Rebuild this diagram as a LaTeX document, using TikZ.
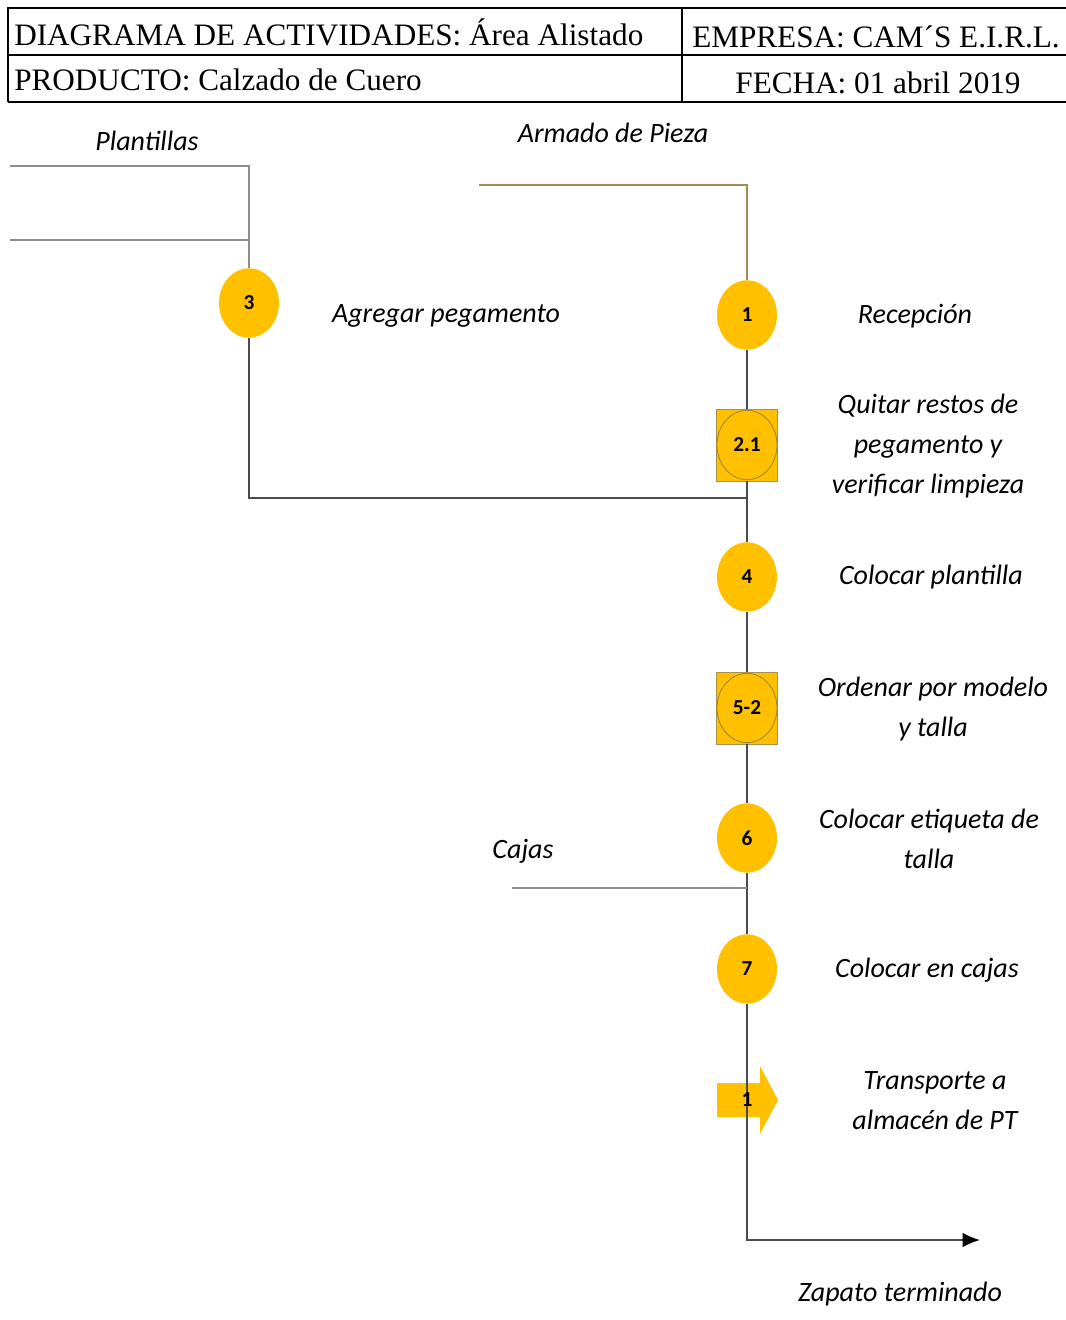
\documentclass[tikz,border=0pt]{standalone}
\usepackage{fontspec}
\setmainfont{Liberation Serif}
\newfontfamily\calfont{Carlito}
\usepackage{tikz}
\usetikzlibrary{shapes.geometric}
\usetikzlibrary{arrows.meta}
\usetikzlibrary{positioning}
\usetikzlibrary{calc}
\definecolor{opFill}{RGB}{255,192,0}
\definecolor{opBorder}{RGB}{130,100,0}
\definecolor{armado}{RGB}{160,140,90}
\definecolor{flowGray}{RGB}{75,75,75}
\definecolor{inGray}{RGB}{140,140,140}
\tikzstyle{hdr} = [font={\fontsize{23.4}{26}\selectfont}, inner sep=0pt]
\tikzstyle{num} = [font={\calfont\bfseries\fontsize{16}{17}\selectfont}]
\tikzstyle{op} = [ellipse, fill=opFill, minimum width=45pt, minimum height=52pt,
        inner sep=0pt, num]
\tikzstyle{combo} = [rectangle, fill=opFill, draw=opBorder!70, line width=0.6pt,
        minimum width=46pt, minimum height=54pt, inner sep=0pt]
\tikzstyle{comboIn} = [op, draw=opBorder!80, line width=0.6pt]
\tikzstyle{desc} = [font={\calfont\itshape\fontsize{21}{30}\selectfont}, align=center]
\tikzstyle{flow} = [draw=flowGray, line width=1.4pt]
\tikzstyle{input} = [draw=inGray, line width=2pt]

\begin{document}
\begin{tikzpicture}[x=0.75pt, y=-0.75pt]
                \useasboundingbox (0,0) rectangle (1066,1320);
                % encabezado
                \draw[line width=1pt] (1066,8) -- (8,8) -- (8,102);
                \draw[line width=1pt] (8,55) -- (1066,55);
                \draw[line width=2.2pt] (8,102) -- (1066,102);
                \draw[line width=1pt] (682,8) -- (682,102);
                \node[hdr, anchor=west] (titulo) at (14,32) {DIAGRAMA DE ACTIVIDADES: Área Alistado};
                \node[hdr, anchor=west] (producto) at (14,80) {PRODUCTO: Calzado de Cuero};
                \node[hdr] (empresa) at (876,37) {EMPRESA: CAM´S E.I.R.L.};
                \node[hdr] (fecha) at (878,83) {FECHA: 01 abril 2019};
                % simbolos
                \node[op] (op3) at (249,303) {3};
                \node[op] (op1) at (747,315) {1};
                \node[combo] (sq21) at (747,445) {};
                \node[comboIn] (op21) at (747,445) {2.1};
                \node[op] (op4) at (747,577) {4};
                \node[combo] (sq52) at (747,708) {};
                \node[comboIn] (op52) at (747,708) {5-2};
                \node[op] (op6) at (747,838) {6};
                \node[op] (op7) at (747,969) {7};
                \coordinate (tr1) at (747,1100);
                \fill[opFill] ($(tr1)+(-30,-17)$) -- ++(43,0) -- ++(0,-17) -- ++(18,34)
                    -- ++(-18,34) -- ++(0,-17) -- ++(-43,0) -- cycle;
                % lineas
                \coordinate (armIni) at (479,185);
                \coordinate (pl1) at (10,166);
                \coordinate (pl2) at (10,240);
                \coordinate (union1) at (747,498);
                \coordinate (cajIni) at (512,888);
                \coordinate (union2) at (747,888);
                \coordinate (fin) at (980,1240);
                \draw[draw=armado, line width=1.4pt] (armIni) -| (op1.north);
                \draw[input] (pl1) -| (op3.north);
                \draw[input] (pl2) -| (op3.north);
                \draw[flow] (op3.south) |- (union1);
                \draw[flow] (op1.south) -- (sq21.north);
                \draw[flow] (sq21.south) -- (op4.north);
                \draw[flow] (op4.south) -- (sq52.north);
                \draw[flow] (sq52.south) -- (op6.north);
                \draw[flow] (op6.south) -- (op7.north);
                \draw[input] (cajIni) -- (union2);
                \draw[flow, -{Latex[length=13pt, width=11pt, fill=black, color=black]}] (op7.south) |- (fin);
                \node[num] (t1) at (tr1) {1};
                % textos
                \node[desc] (lPlant) at (147,141) {Plantillas};
                \node[desc] (lArm) at (613,133) {Armado de Pieza};
                \node[desc] (lAgr) at (446,316) {Agregar pegamento};
                \node[desc] (lRec) at (915,316) {Recepción};
                \node[desc] (lQuit) at (928,446) {Quitar restos de\\pegamento y\\verificar limpieza};
                \node[desc] (lCol) at (931,577) {Colocar plantilla};
                \node[desc] (lOrd) at (933,709) {Ordenar por modelo\\y talla};
                \node[desc] (lCaj) at (523,851) {Cajas};
                \node[desc] (lEti) at (929,839) {Colocar etiqueta de\\talla};
                \node[desc] (lEnc) at (927,970) {Colocar en cajas};
                \node[desc] (lTra) at (935,1101) {Transporte a\\almacén de PT};
                \node[desc] (lZap) at (900,1294) {Zapato terminado};
            \end{tikzpicture}
\end{document}
